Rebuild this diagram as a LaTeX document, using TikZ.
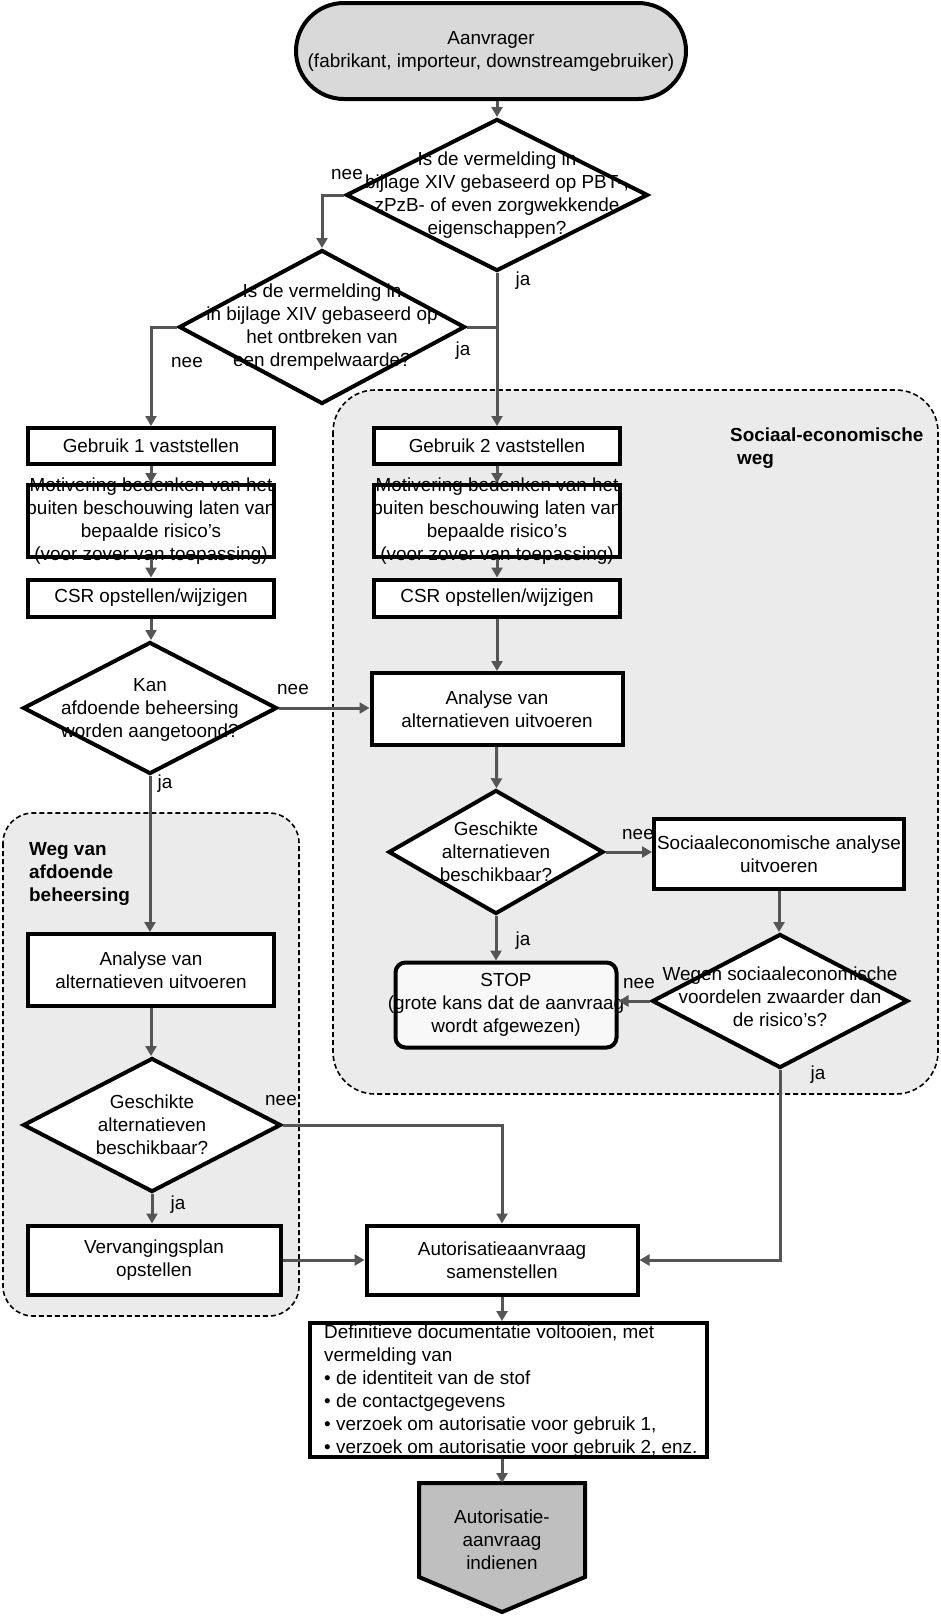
\documentclass[tikz,border=0pt]{standalone}
\usepackage{fontspec}
\setmainfont{Liberation Sans}
\usetikzlibrary{shapes.geometric,shapes.misc,arrows.meta}
\definecolor{linegray}{HTML}{555555}
\definecolor{regiongray}{HTML}{EBEBEB}
\definecolor{startgray}{HTML}{D9D9D9}
\definecolor{endgray}{HTML}{BFBFBF}
\definecolor{stopgray}{HTML}{F8F8F8}
\tikzset{
  shp/.style={draw=black, line width=4pt, fill=white, inner sep=0pt},
  boxnode/.style={shp, rectangle, minimum width=246pt, minimum height=36pt},
  dia/.style={shp, diamond},
  txt/.style={align=center, inner sep=0pt, font=\fontsize{18.9}{23}\selectfont},
  lbl/.style={inner sep=0pt, font=\fontsize{18.9}{23}\selectfont},
  conn/.style={draw=linegray, line width=3pt, -{Triangle[length=10pt,width=11pt]}},
  plainline/.style={draw=linegray, line width=3pt},
  region/.style={draw=black, line width=1.6pt, dash pattern=on 5pt off 3pt, fill=regiongray},
  ttl/.style={font=\fontsize{18.9}{23}\selectfont\bfseries, align=left, inner sep=0pt},
}
\begin{document}
\begin{tikzpicture}[x=1pt,y=-1pt]
\useasboundingbox (0,0) rectangle (941,1617);
% regions
\draw[region, rounded corners=42pt] (333,390) rectangle (938,1094);
\draw[region, rounded corners=30pt] (3,813) rectangle (299,1316);
\node[ttl, anchor=base west] (tR) at (730,464) {Sociaal-economische\\\hspace*{7pt}weg};
\node[ttl, anchor=base west] (tL) at (29,901) {Weg van\\afdoende\\beheersing};

% shapes
\node[shp, rounded rectangle, fill=startgray, minimum width=390pt, minimum height=96pt] (start) at (491,51) {};
\node[txt] at (start) {Aanvrager\\(fabrikant, importeur, downstreamgebruiker)};

\node[dia, minimum width=302pt, minimum height=152pt] (d1) at (497,195) {};
\node[txt] at (d1) {Is de vermelding in\\bijlage XIV gebaseerd op PBT-,\\zPzB- of even zorgwekkende\\eigenschappen?};

\node[dia, minimum width=286pt, minimum height=154pt] (d2) at (322,327) {};
\node[txt] at (d2) {Is de vermelding in\\in bijlage XIV gebaseerd op\\het ontbreken van\\een drempelwaarde?};

\node[boxnode] (g1) at (151,446) {};
\node[txt] at (g1) {Gebruik 1 vaststellen};
\node[boxnode] (g2) at (497,446) {};
\node[txt] at (g2) {Gebruik 2 vaststellen};

\node[boxnode, minimum height=72pt] (m1) at (151,521) {};
\node[txt] at (m1) {Motivering bedenken van het\\buiten beschouwing laten van\\bepaalde risico's\\(voor zover van toepassing)};
\node[boxnode, minimum height=72pt] (m2) at (497,521) {};
\node[txt] at (m2) {Motivering bedenken van het\\buiten beschouwing laten van\\bepaalde risico's\\(voor zover van toepassing)};

\node[boxnode, minimum height=37pt] (c1) at (151,598) {};
\node[txt] at (c1) {CSR opstellen/wijzigen};
\node[boxnode, minimum height=37pt] (c2) at (497,598) {};
\node[txt] at (c2) {CSR opstellen/wijzigen};

\node[dia, minimum width=254pt, minimum height=132pt] (d3) at (150,708) {};
\node[txt] at (150,710) {Kan\\afdoende beheersing\\worden aangetoond?};

\node[boxnode, minimum width=251pt, minimum height=72pt] (aR) at (497,709) {};
\node[txt] at (aR) {Analyse van\\alternatieven uitvoeren};

\node[dia, minimum width=215pt, minimum height=124pt] (d4) at (496,852) {};
\node[txt] at (d4) {Geschikte\\alternatieven\\beschikbaar?};

\node[boxnode, minimum width=250pt, minimum height=70pt] (so) at (779,854) {};
\node[txt] at (so) {Sociaaleconomische analyse\\uitvoeren};

\node[dia, minimum width=256pt, minimum height=134pt] (d5) at (780,1001) {};
\node[txt] at (780,997) {Wegen sociaaleconomische\\voordelen zwaarder dan\\de risico's?};

\node[shp, rectangle, rounded corners=10pt, fill=stopgray, minimum width=221pt, minimum height=85pt] (stop) at (506,1005) {};
\node[txt] at (stop) {STOP\\(grote kans dat de aanvraag\\wordt afgewezen)};

\node[boxnode, minimum height=72pt] (aL) at (151,970) {};
\node[txt] at (aL) {Analyse van\\alternatieven uitvoeren};

\node[dia, minimum width=258pt, minimum height=134pt] (d6) at (152,1125) {};
\node[txt] at (d6) {Geschikte\\alternatieven\\beschikbaar?};

\node[boxnode, minimum width=253pt, minimum height=69pt] (vp) at (154,1260) {};
\node[txt] at (vp) {Vervangingsplan\\opstellen};

\node[boxnode, minimum width=271pt, minimum height=69pt] (au) at (502,1260) {};
\node[txt] at (au) {Autorisatieaanvraag\\samenstellen};

\node[boxnode, minimum width=397pt, minimum height=134pt] (def) at (508,1390) {};
\node[txt, align=left, anchor=west] at (324,1391) {Definitieve documentatie voltooien, met\\vermelding van\\• de identiteit van de stof\\• de contactgegevens\\• verzoek om autorisatie voor gebruik 1,\\• verzoek om autorisatie voor gebruik 2, enz.};

\draw[shp, fill=endgray] (419,1483) -- (585,1483) -- (585,1577) -- (502,1612) -- (419,1577) -- cycle;
\coordinate (fin) at (502,1483);
\node[txt] (finT) at (502,1540) {Autorisatie-\\aanvraag\\indienen};

% connectors
\draw[conn] (start.south -| d1.north) -- (d1.north);
\draw[conn] (d1.west) -| (d2.north);
\draw[conn] (d2.west) -| (g1.north);
\draw[plainline] (d2.east) -- (d2.east -| d1.south);
\draw[conn] (d1.south) -- (g2.north);
\draw[conn] (g1) -- (m1);
\draw[conn] (m1) -- (c1);
\draw[conn] (c1.south) -- (c1.south |- d3.north);
\draw[conn] (g2) -- (m2);
\draw[conn] (m2) -- (c2);
\draw[conn] (c2) -- (aR);
\draw[conn] (d3.east) -- (d3.east -| aR.west);
\draw[conn] (aR) -- (d4);
\draw[conn] (d3.south) -- (d3.south |- aL.north);
\draw[conn] (d4.east) -- (d4.east -| so.west);
\draw[conn] (so.south) -- (so.south |- d5.north);
\draw[conn] (d5.west) -- (d5.west -| stop.east);
\draw[conn] (d4.south) -- (d4.south |- stop.north);
\draw[conn] (d5.south) |- (au.east);
\draw[conn] (aL.south) -- (aL.south |- d6.north);
\draw[conn] (d6.south) -- (d6.south |- vp.north);
\draw[conn] (d6.east) -| (au.north);
\draw[conn] (vp.east) -- (vp.east -| au.west);
\draw[conn] (au.south) -- (au.south |- def.north);
\draw[conn] (au.south |- def.south) -- (fin);

% labels
\node[lbl] (l1) at (347,175) {nee};
\node[lbl] (l2) at (523,281) {ja};
\node[lbl] (l3) at (187,363) {nee};
\node[lbl] (l4) at (463,351) {ja};
\node[lbl] (l5) at (293,689) {nee};
\node[lbl] (l6) at (165,784) {ja};
\node[lbl] (l7) at (638,834) {nee};
\node[lbl] (l8) at (523,941) {ja};
\node[lbl] (l9) at (639,983) {nee};
\node[lbl] (l10) at (818,1075) {ja};
\node[lbl] (l11) at (281,1100) {nee};
\node[lbl] (l12) at (178,1205) {ja};
\end{tikzpicture}
\end{document}
